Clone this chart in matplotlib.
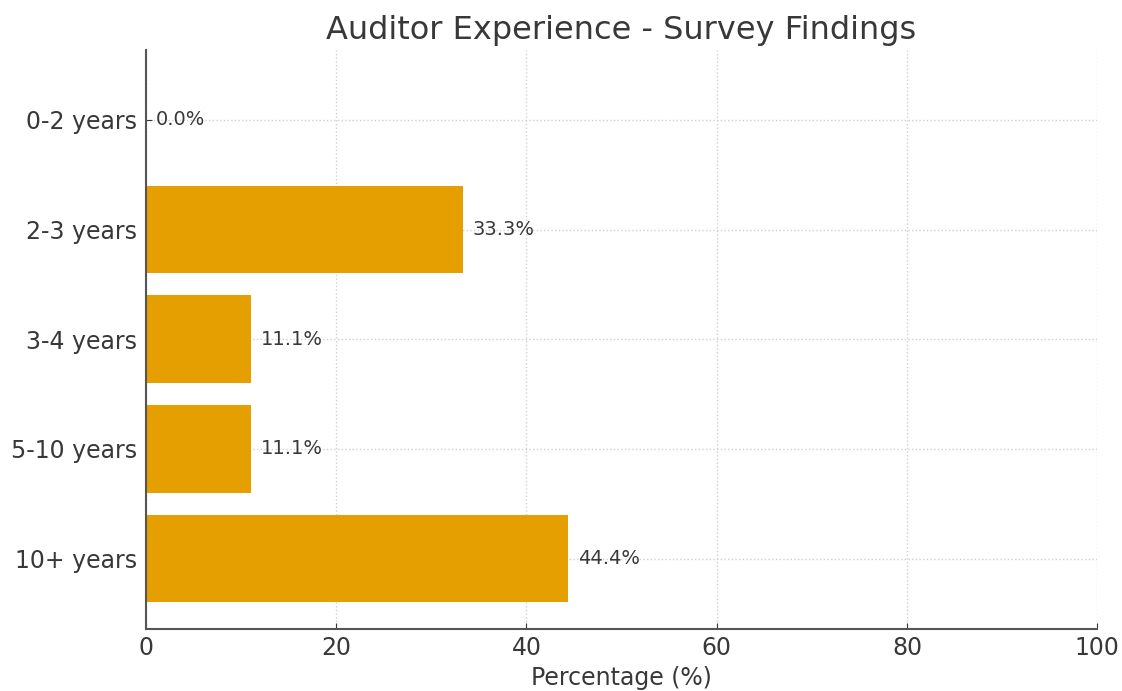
import matplotlib
matplotlib.use('Agg')
import matplotlib.pyplot as plt
import numpy as np

# survey data
categories = ['0-2 years', '2-3 years', '3-4 years', '5-10 years', '10+ years']
percentages = [0.0, 33.3, 11.1, 11.1, 44.4]

text_color = '#383838'

fig, ax = plt.subplots(figsize=(11.22, 6.91), dpi=100)
fig.subplots_adjust(left=0.130, right=0.978, top=0.928, bottom=0.090)

y = np.arange(len(categories))
ax.barh(y, percentages, height=0.8, color='#E69F00', zorder=2)
ax.set_yticks(y)
ax.set_yticklabels(categories)
ax.invert_yaxis()
ax.set_xlim(0, 100)

# value labels next to each bar
for yi, val in zip(y, percentages):
    ax.text(val + 1, yi, f'{val:.1f}%', va='center', ha='left',
            fontsize=14, color=text_color, zorder=3)

ax.set_title('Auditor Experience - Survey Findings', fontsize=23, color=text_color, pad=8)
ax.set_xlabel('Percentage (%)', fontsize=17, color=text_color)
ax.xaxis.set_label_coords(0.5, -0.064)

ax.grid(True, color='#d0d0d0', linestyle=':', linewidth=1, zorder=0)
ax.set_axisbelow(True)
for side in ['top', 'right']:
    ax.spines[side].set_visible(False)
for side in ['left', 'bottom']:
    ax.spines[side].set_color('#555555')
    ax.spines[side].set_linewidth(1.5)
ax.tick_params(direction='in', labelsize=17, colors=text_color, length=4)
ax.tick_params(axis='x', pad=5)
ax.tick_params(axis='y', pad=6.5)

plt.savefig('out.png', dpi=100)
